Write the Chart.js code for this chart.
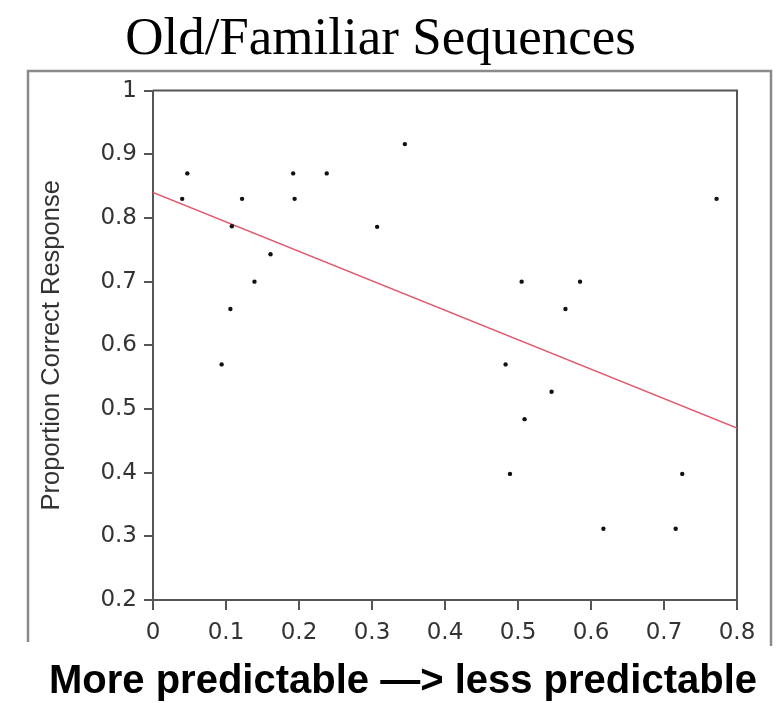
<!DOCTYPE html>
<html lang="en">
<head>
    <meta charset="UTF-8">
    <title>Old/Familiar Sequences</title>
    <script src="https://cdn.jsdelivr.net/npm/chart.js"></script>
    <style>
        body { margin: 0; background: #fff; }
        #wrap { position: relative; width: 780px; height: 703px; }
        #caption {
            position: absolute; top: 659px; left: 403px;
            transform: translateX(-50%);
            font: bold 40px "Liberation Sans", Arial, sans-serif;
            line-height: 40px; white-space: nowrap; color: #000;
        }
    </style>
</head>
<body>
<div id="wrap">
    <canvas id="myCanvas" width="780" height="703"></canvas>
    <div id="caption">More predictable —&gt; less predictable</div>
</div>
<script>
// predictability (x) and proportion correct (y) per sequence
var predictability = [0.040, 0.047, 0.094, 0.106, 0.108, 0.122, 0.139, 0.161, 0.192, 0.194, 0.238, 0.307,
                      0.345, 0.483, 0.489, 0.505, 0.509, 0.546, 0.565, 0.585, 0.617, 0.716, 0.725, 0.772];
var proportionCorrect = [0.83, 0.87, 0.57, 0.657, 0.787, 0.83, 0.70, 0.743, 0.87, 0.83, 0.87, 0.786,
                         0.916, 0.57, 0.398, 0.70, 0.484, 0.527, 0.657, 0.70, 0.312, 0.312, 0.398, 0.83];
// fitted line end points
var fitX = [0, 0.8];
var fitY = [0.84, 0.47];

var xTickLabels = ['0', '0.1', '0.2', '0.3', '0.4', '0.5', '0.6', '0.7', '0.8'];
var yTickLabels = ['0.2', '0.3', '0.4', '0.5', '0.6', '0.7', '0.8', '0.9', '1'];

var puntos = predictability.map(function(x, i){ return {x: x, y: proportionCorrect[i]}; });
var recta = fitX.map(function(x, i){ return {x: x, y: fitY[i]}; });

// frame around the plot + outer box
var marcos = {
    id: 'marcos',
    beforeDraw: function(chart){
        var ctx = chart.ctx, a = chart.chartArea;
        ctx.save();
        ctx.strokeStyle = '#8a8a8a';
        ctx.lineWidth = 2.5;
        ctx.beginPath();
        ctx.moveTo(a.left - 125, a.bottom + 42);
        ctx.lineTo(a.left - 125, a.top - 19.5);
        ctx.lineTo(a.right + 34, a.top - 19.5);
        ctx.lineTo(a.right + 34, a.bottom + 46);
        ctx.stroke();
        ctx.strokeStyle = '#555';
        ctx.lineWidth = 2;
        ctx.beginPath();
        ctx.moveTo(a.left, a.top);
        ctx.lineTo(a.right, a.top);
        ctx.lineTo(a.right, a.bottom);
        ctx.stroke();
        ctx.restore();
    }
};

var ctx = document.getElementById('myCanvas').getContext('2d');
var myChart = new Chart(ctx, {
    type: 'scatter',
    data: {
        datasets: [{
            label: 'Sequences',
            data: puntos,
            backgroundColor: '#111',
            borderWidth: 0,
            pointRadius: 2.2
        }, {
            label: 'Fit',
            data: recta,
            showLine: true,
            borderColor: '#e05a70',
            borderWidth: 1.6,
            pointRadius: 0
        }]
    },
    options: {
        responsive: false,
        animation: false,
        events: [],
        devicePixelRatio: 1,
        layout: { padding: { left: 24, right: 43, top: 0, bottom: 53 } },
        plugins: {
            legend: { display: false },
            tooltip: { enabled: false },
            title: {
                display: true,
                text: 'Old/Familiar Sequences',
                color: '#000',
                font: { family: '"Liberation Serif", "Times New Roman", serif', size: 53, weight: 'normal' },
                padding: { top: 8, bottom: 19 }
            }
        },
        scales: {
            x: {
                type: 'linear',
                min: 0, max: 0.8,
                ticks: {
                    stepSize: 0.1,
                    color: '#333',
                    padding: 9,
                    font: { family: '"DejaVu Sans", Verdana, sans-serif', size: 23 },
                    callback: function(v, i){ return xTickLabels[i]; }
                },
                grid: { drawOnChartArea: false, drawTicks: true, tickLength: 10, color: '#555', lineWidth: 2 },
                border: { display: true, color: '#555', width: 2 },
                afterFit: function(scale){ scale.height = 50; }
            },
            y: {
                type: 'linear',
                min: 0.2, max: 1,
                ticks: {
                    stepSize: 0.1,
                    color: '#333',
                    padding: 7,
                    font: { family: '"DejaVu Sans", Verdana, sans-serif', size: 23 },
                    callback: function(v, i){ return yTickLabels[i]; }
                },
                grid: { drawOnChartArea: false, drawTicks: true, tickLength: 9, color: '#555', lineWidth: 2 },
                border: { display: true, color: '#555', width: 2 },
                title: {
                    display: true,
                    text: 'Proportion Correct Response',
                    color: '#333',
                    font: { family: '"Liberation Sans", Arial, sans-serif', size: 25.5 },
                    padding: { top: 13, bottom: 0 }
                },
                afterFit: function(scale){ scale.width = 129; }
            }
        }
    },
    plugins: [marcos]
});
</script>
</body>
</html>
